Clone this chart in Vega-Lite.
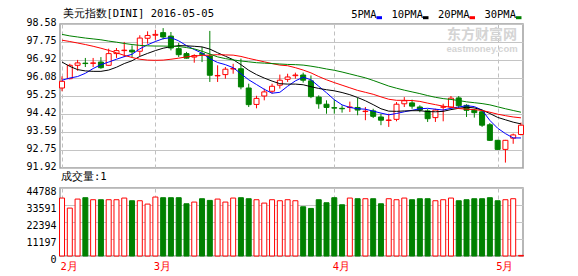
{
"$schema": "https://vega.github.io/schema/vega-lite/v6.json",
"background": "white",
"padding": {"left": 25, "top": 8, "right": 2, "bottom": 2},
"data": {"values": [
{"date":"2016-02-12","open":95.62,"high":96.16,"low":95.47,"close":95.93,"volume":38170,"5PMA":95.98,"10PMA":96.82,"20PMA":97.83,"30PMA":98.10},
{"date":"2016-02-15","open":96.05,"high":96.74,"low":96.02,"close":96.67,"volume":31550,"5PMA":96.08,"10PMA":96.62,"20PMA":97.77,"30PMA":98.03},
{"date":"2016-02-16","open":96.67,"high":96.92,"low":96.42,"close":96.78,"volume":37500,"5PMA":96.15,"10PMA":96.47,"20PMA":97.70,"30PMA":97.98},
{"date":"2016-02-17","open":96.77,"high":97.01,"low":96.59,"close":96.75,"volume":38390,"5PMA":96.30,"10PMA":96.41,"20PMA":97.63,"30PMA":97.93},
{"date":"2016-02-18","open":96.76,"high":97.01,"low":96.59,"close":96.78,"volume":37060,"5PMA":96.52,"10PMA":96.39,"20PMA":97.55,"30PMA":97.89},
{"date":"2016-02-19","open":96.82,"high":97.05,"low":96.51,"close":96.56,"volume":37060,"5PMA":96.70,"10PMA":96.39,"20PMA":97.46,"30PMA":97.85},
{"date":"2016-02-22","open":96.67,"high":97.44,"low":96.65,"close":97.21,"volume":37060,"5PMA":96.82,"10PMA":96.45,"20PMA":97.36,"30PMA":97.79},
{"date":"2016-02-23","open":97.21,"high":97.47,"low":97.01,"close":97.35,"volume":37060,"5PMA":96.95,"10PMA":96.58,"20PMA":97.25,"30PMA":97.74},
{"date":"2016-02-24","open":97.35,"high":97.75,"low":97.05,"close":97.37,"volume":38170,"5PMA":97.07,"10PMA":96.75,"20PMA":97.13,"30PMA":97.68},
{"date":"2016-02-25","open":97.37,"high":97.59,"low":97.05,"close":97.29,"volume":36400,"5PMA":97.18,"10PMA":96.88,"20PMA":97.03,"30PMA":97.63},
{"date":"2016-02-26","open":97.32,"high":98.06,"low":97.10,"close":97.93,"volume":36400,"5PMA":97.43,"10PMA":97.08,"20PMA":96.95,"30PMA":97.59},
{"date":"2016-02-29","open":97.92,"high":98.24,"low":97.67,"close":98.05,"volume":34190,"5PMA":97.62,"10PMA":97.22,"20PMA":96.91,"30PMA":97.57},
{"date":"2016-03-01","open":98.06,"high":98.31,"low":97.85,"close":98.10,"volume":38830,"5PMA":97.77,"10PMA":97.35,"20PMA":96.90,"30PMA":97.56},
{"date":"2016-03-02","open":98.18,"high":98.39,"low":97.87,"close":97.98,"volume":38390,"5PMA":97.90,"10PMA":97.46,"20PMA":96.91,"30PMA":97.56},
{"date":"2016-03-03","open":98.02,"high":98.21,"low":97.36,"close":97.47,"volume":38390,"5PMA":97.95,"10PMA":97.53,"20PMA":96.95,"30PMA":97.55},
{"date":"2016-03-04","open":97.44,"high":97.70,"low":97.05,"close":97.16,"volume":38390,"5PMA":97.80,"10PMA":97.58,"20PMA":97.00,"30PMA":97.54},
{"date":"2016-03-07","open":97.21,"high":97.29,"low":96.98,"close":97.00,"volume":34410,"5PMA":97.58,"10PMA":97.57,"20PMA":97.06,"30PMA":97.49},
{"date":"2016-03-08","open":97.05,"high":97.18,"low":96.79,"close":97.12,"volume":35520,"5PMA":97.40,"10PMA":97.55,"20PMA":97.10,"30PMA":97.43},
{"date":"2016-03-09","open":97.21,"high":97.52,"low":96.82,"close":97.18,"volume":37720,"5PMA":97.23,"10PMA":97.52,"20PMA":97.13,"30PMA":97.32},
{"date":"2016-03-10","open":97.10,"high":98.26,"low":95.90,"close":96.21,"volume":36620,"5PMA":96.98,"10PMA":97.42,"20PMA":97.14,"30PMA":97.19},
{"date":"2016-03-11","open":96.18,"high":96.67,"low":95.90,"close":96.20,"volume":37500,"5PMA":96.80,"10PMA":97.25,"20PMA":97.16,"30PMA":97.06},
{"date":"2016-03-14","open":96.24,"high":96.59,"low":96.05,"close":96.49,"volume":35520,"5PMA":96.70,"10PMA":97.09,"20PMA":97.15,"30PMA":96.98},
{"date":"2016-03-15","open":96.50,"high":96.74,"low":96.28,"close":96.52,"volume":38170,"5PMA":96.56,"10PMA":96.93,"20PMA":97.14,"30PMA":96.92},
{"date":"2016-03-16","open":96.51,"high":96.98,"low":95.56,"close":95.67,"volume":38390,"5PMA":96.28,"10PMA":96.70,"20PMA":97.08,"30PMA":96.87},
{"date":"2016-03-17","open":95.62,"high":95.82,"low":94.74,"close":94.85,"volume":37720,"5PMA":96.00,"10PMA":96.44,"20PMA":96.99,"30PMA":96.83},
{"date":"2016-03-18","open":94.86,"high":95.26,"low":94.68,"close":95.14,"volume":37060,"5PMA":95.78,"10PMA":96.24,"20PMA":96.91,"30PMA":96.79},
{"date":"2016-03-21","open":95.25,"high":95.59,"low":95.05,"close":95.44,"volume":34850,"5PMA":95.56,"10PMA":96.08,"20PMA":96.83,"30PMA":96.77},
{"date":"2016-03-22","open":95.47,"high":95.82,"low":95.36,"close":95.70,"volume":37060,"5PMA":95.38,"10PMA":95.94,"20PMA":96.75,"30PMA":96.75},
{"date":"2016-03-23","open":95.75,"high":96.24,"low":95.59,"close":95.98,"volume":36400,"5PMA":95.42,"10PMA":95.82,"20PMA":96.68,"30PMA":96.73},
{"date":"2016-03-24","open":96.02,"high":96.28,"low":95.90,"close":96.13,"volume":37060,"5PMA":95.70,"10PMA":95.80,"20PMA":96.65,"30PMA":96.71},
{"date":"2016-03-25","open":96.19,"high":96.33,"low":96.05,"close":96.22,"volume":36400,"5PMA":95.95,"10PMA":95.80,"20PMA":96.56,"30PMA":96.70},
{"date":"2016-03-28","open":96.22,"high":96.33,"low":95.87,"close":95.98,"volume":32430,"5PMA":96.12,"10PMA":95.77,"20PMA":96.45,"30PMA":96.68},
{"date":"2016-03-29","open":95.95,"high":96.20,"low":95.15,"close":95.22,"volume":31330,"5PMA":96.00,"10PMA":95.68,"20PMA":96.32,"30PMA":96.63},
{"date":"2016-03-30","open":95.20,"high":95.28,"low":94.66,"close":94.89,"volume":37060,"5PMA":95.70,"10PMA":95.60,"20PMA":96.15,"30PMA":96.57},
{"date":"2016-03-31","open":94.87,"high":95.05,"low":94.43,"close":94.72,"volume":35080,"5PMA":95.40,"10PMA":95.54,"20PMA":96.00,"30PMA":96.50},
{"date":"2016-04-01","open":94.71,"high":95.09,"low":94.43,"close":94.69,"volume":38390,"5PMA":95.08,"10PMA":95.49,"20PMA":95.87,"30PMA":96.44},
{"date":"2016-04-04","open":94.68,"high":94.82,"low":94.48,"close":94.66,"volume":33750,"5PMA":94.84,"10PMA":95.41,"20PMA":95.75,"30PMA":96.36},
{"date":"2016-04-05","open":94.72,"high":94.99,"low":94.51,"close":94.74,"volume":38170,"5PMA":94.72,"10PMA":95.31,"20PMA":95.63,"30PMA":96.27},
{"date":"2016-04-06","open":94.72,"high":95.16,"low":94.36,"close":94.60,"volume":37720,"5PMA":94.66,"10PMA":95.18,"20PMA":95.51,"30PMA":96.18},
{"date":"2016-04-07","open":94.53,"high":94.74,"low":94.13,"close":94.55,"volume":37720,"5PMA":94.64,"10PMA":95.03,"20PMA":95.42,"30PMA":96.09},
{"date":"2016-04-08","open":94.56,"high":94.66,"low":94.23,"close":94.31,"volume":37720,"5PMA":94.55,"10PMA":94.85,"20PMA":95.33,"30PMA":95.97},
{"date":"2016-04-11","open":94.28,"high":94.43,"low":93.90,"close":94.13,"volume":34410,"5PMA":94.46,"10PMA":94.66,"20PMA":95.21,"30PMA":95.84},
{"date":"2016-04-12","open":94.12,"high":94.43,"low":93.82,"close":94.14,"volume":37720,"5PMA":94.38,"10PMA":94.55,"20PMA":95.10,"30PMA":95.71},
{"date":"2016-04-13","open":94.17,"high":94.97,"low":94.08,"close":94.87,"volume":37060,"5PMA":94.44,"10PMA":94.54,"20PMA":95.05,"30PMA":95.61},
{"date":"2016-04-14","open":94.89,"high":95.20,"low":94.74,"close":95.03,"volume":38170,"5PMA":94.52,"10PMA":94.56,"20PMA":95.05,"30PMA":95.52},
{"date":"2016-04-15","open":94.93,"high":95.08,"low":94.66,"close":94.78,"volume":37060,"5PMA":94.59,"10PMA":94.57,"20PMA":95.04,"30PMA":95.44},
{"date":"2016-04-18","open":94.74,"high":94.82,"low":94.50,"close":94.60,"volume":37720,"5PMA":94.66,"10PMA":94.57,"20PMA":95.00,"30PMA":95.36},
{"date":"2016-04-19","open":94.56,"high":94.64,"low":94.05,"close":94.20,"volume":37720,"5PMA":94.68,"10PMA":94.53,"20PMA":94.92,"30PMA":95.27},
{"date":"2016-04-20","open":94.25,"high":94.66,"low":94.05,"close":94.60,"volume":36400,"5PMA":94.64,"10PMA":94.52,"20PMA":94.85,"30PMA":95.19},
{"date":"2016-04-21","open":94.73,"high":94.89,"low":94.08,"close":94.75,"volume":37060,"5PMA":94.60,"10PMA":94.54,"20PMA":94.78,"30PMA":95.13},
{"date":"2016-04-22","open":94.74,"high":95.25,"low":94.70,"close":95.15,"volume":38170,"5PMA":94.68,"10PMA":94.62,"20PMA":94.73,"30PMA":95.09},
{"date":"2016-04-25","open":95.16,"high":95.25,"low":94.70,"close":94.80,"volume":36400,"5PMA":94.74,"10PMA":94.68,"20PMA":94.67,"30PMA":95.04},
{"date":"2016-04-26","open":94.82,"high":94.87,"low":94.28,"close":94.59,"volume":37060,"5PMA":94.80,"10PMA":94.73,"20PMA":94.64,"30PMA":94.98},
{"date":"2016-04-27","open":94.59,"high":94.66,"low":94.25,"close":94.48,"volume":37720,"5PMA":94.76,"10PMA":94.70,"20PMA":94.62,"30PMA":94.94},
{"date":"2016-04-28","open":94.52,"high":94.62,"low":93.82,"close":93.90,"volume":37720,"5PMA":94.60,"10PMA":94.60,"20PMA":94.58,"30PMA":94.90},
{"date":"2016-04-29","open":93.92,"high":94.00,"low":93.17,"close":93.20,"volume":38390,"5PMA":94.12,"10PMA":94.44,"20PMA":94.50,"30PMA":94.84},
{"date":"2016-05-02","open":93.20,"high":93.22,"low":92.76,"close":92.78,"volume":36400,"5PMA":93.76,"10PMA":94.26,"20PMA":94.41,"30PMA":94.75},
{"date":"2016-05-03","open":92.78,"high":93.22,"low":92.17,"close":93.20,"volume":37060,"5PMA":93.51,"10PMA":94.15,"20PMA":94.34,"30PMA":94.66},
{"date":"2016-05-04","open":93.30,"high":93.51,"low":93.04,"close":93.45,"volume":37720,"5PMA":93.31,"10PMA":94.04,"20PMA":94.28,"30PMA":94.58},
{"date":"2016-05-05","open":93.47,"high":94.02,"low":93.43,"close":93.90,"volume":400,"5PMA":93.31,"10PMA":93.96,"20PMA":94.24,"30PMA":94.50}
]},
"config": {
  "view": {"stroke": "#a0a0a0", "strokeWidth": 1.5},
  "concat": {"spacing": -3},
  "axis": {"domain": false, "ticks": false, "tickSize": 0, "labelFont": "DejaVu Sans Mono", "labelFontSize": 10, "labelColor": "#000000", "gridColor": "#c4c4c4", "gridWidth": 1},
  "title": {"font": "DejaVu Sans Mono", "fontSize": 10.5, "fontWeight": "normal", "color": "#000000", "anchor": "start", "frame": "group"}
},
"resolve": {"scale": {"color": "independent"}, "legend": {"color": "independent"}},
"vconcat": [
{
  "width": 463,
  "height": 144,
  "title": {"text": "美元指数[DINI] 2016-05-05", "offset": -9.6, "dx": 2.5, "frame": "group", "font": "DejaVu Sans Mono", "fontSize": 10.5},
  "encoding": {
    "x": {"field": "date", "type": "ordinal", "scale": {"type": "point", "padding": 0.26},
      "axis": {"title": null, "labels": false, "ticks": false, "domain": false, "grid": true, "gridDash": [4, 3], "gridColor": "#c0c0c0",
        "gridOpacity": {"condition": {"test": "indexof(['2016-02-12','2016-03-01','2016-04-01','2016-05-02'], datum.value) >= 0", "value": 1}, "value": 0}}}
  },
  "layer": [
    {
      "data": {"values": [{}]},
      "mark": {"type": "text", "text": "东方财富网", "font": "Noto Sans CJK SC", "fontSize": 14, "fontWeight": "bold", "color": "#d4d4d4", "align": "center", "baseline": "middle"},
      "encoding": {
        "x": {"datum": "2016-04-28", "type": "ordinal"},
        "y": {"datum": 98.05, "type": "quantitative", "scale": {"domain": [91.92, 98.58], "zero": false, "nice": false},
          "axis": {"title": null, "values": [91.92, 92.75, 93.59, 94.42, 95.25, 96.08, 96.92, 97.75, 98.58], "format": ".2f", "labelOffset": -1.5, "labelPadding": 4, "grid": true}}
      }
    },
    {
      "data": {"values": [{}]},
      "mark": {"type": "text", "text": "eastmoney.com", "font": "Liberation Sans", "fontSize": 9.5, "fontWeight": "bold", "color": "#d4d4d4", "align": "center", "baseline": "middle"},
      "encoding": {
        "x": {"datum": "2016-04-28", "type": "ordinal"},
        "y": {"datum": 97.41, "type": "quantitative", "scale": {"domain": [91.92, 98.58], "zero": false, "nice": false},
          "axis": {"title": null, "values": [91.92, 92.75, 93.59, 94.42, 95.25, 96.08, 96.92, 97.75, 98.58], "format": ".2f", "labelOffset": -1.5, "labelPadding": 4, "grid": true}}
      }
    },
    {
      "mark": {"type": "rule", "strokeWidth": 1},
      "encoding": {
        "y": {"field": "low", "type": "quantitative", "scale": {"domain": [91.92, 98.58], "zero": false, "nice": false},
          "axis": {"title": null, "values": [91.92, 92.75, 93.59, 94.42, 95.25, 96.08, 96.92, 97.75, 98.58], "format": ".2f", "labelOffset": -1.5, "labelPadding": 4, "grid": true}},
        "y2": {"field": "high"},
        "stroke": {"condition": {"test": "datum.close >= datum.open", "value": "#ff0000"}, "value": "#008000"}
      }
    },
    {
      "mark": {"type": "bar", "size": 5, "strokeWidth": 1},
      "encoding": {
        "y": {"field": "open", "type": "quantitative", "scale": {"domain": [91.92, 98.58], "zero": false, "nice": false},
          "axis": {"title": null, "values": [91.92, 92.75, 93.59, 94.42, 95.25, 96.08, 96.92, 97.75, 98.58], "format": ".2f", "labelOffset": -1.5, "labelPadding": 4, "grid": true}},
        "y2": {"field": "close"},
        "fill": {"condition": {"test": "datum.close >= datum.open", "value": "#ffffff"}, "value": "#008000"},
        "stroke": {"condition": {"test": "datum.close >= datum.open", "value": "#ff0000"}, "value": "#008000"}
      }
    },
    {
      "transform": [{"fold": ["5PMA", "10PMA", "20PMA", "30PMA"], "as": ["ma", "value"]}],
      "mark": {"type": "line", "strokeWidth": 1},
      "encoding": {
        "y": {"field": "value", "type": "quantitative", "scale": {"domain": [91.92, 98.58], "zero": false, "nice": false},
          "axis": {"title": null, "values": [91.92, 92.75, 93.59, 94.42, 95.25, 96.08, 96.92, 97.75, 98.58], "format": ".2f", "labelOffset": -1.5, "labelPadding": 4, "grid": true}},
        "color": {"field": "ma", "type": "nominal",
          "scale": {"domain": ["5PMA", "10PMA", "20PMA", "30PMA"], "range": ["#0000ff", "#000000", "#ff0000", "#008000"]},
          "legend": {"orient": "none", "legendX": 314, "legendY": -14.3, "direction": "horizontal", "title": null,
            "symbolType": "M-1,1H1", "symbolSize": 30, "symbolStrokeWidth": 3,
            "labelAlign": "right", "labelOffset": -8, "labelFont": "DejaVu Sans Mono", "labelFontSize": 10.5, "labelColor": "#000000",
            "columnPadding": 2.5, "padding": 0}}
      }
    }
  ]
},
{
  "width": 463,
  "height": 68,
  "title": {"text": "成交量:1", "offset": 4, "dx": 1, "frame": "group", "font": "DejaVu Sans Mono", "fontSize": 10.5},
  "mark": {"type": "bar", "size": 5, "strokeWidth": 1},
  "encoding": {
    "x": {"field": "date", "type": "ordinal", "scale": {"type": "point", "padding": 0.26},
      "axis": {"title": null, "labelAngle": 0, "labelOverlap": false, "labelAlign": "left", "labelBaseline": "top", "labelOffset": -2, "labelPadding": 5,
        "labelColor": "#ff0000", "labelFont": "DejaVu Sans Mono", "labelFontSize": 10.5,
        "labelExpr": "datum.value == '2016-02-12' ? '2月' : datum.value == '2016-03-01' ? '3月' : datum.value == '2016-04-01' ? '4月' : datum.value == '2016-05-02' ? '5月' : ''",
        "ticks": false, "domain": false, "grid": true, "gridDash": [4, 3], "gridColor": "#c0c0c0",
        "gridOpacity": {"condition": {"test": "indexof(['2016-02-12','2016-03-01','2016-04-01','2016-05-02'], datum.value) >= 0", "value": 1}, "value": 0}}},
    "y": {"field": "volume", "type": "quantitative", "scale": {"domain": [0, 44788], "nice": false},
      "axis": {"title": null, "values": [0, 11197, 22394, 33591, 44788], "format": "d", "labelOffset": 3, "labelPadding": 4, "grid": true}},
    "fill": {"condition": {"test": "datum.close >= datum.open", "value": "#ffffff"}, "value": "#008000"},
    "stroke": {"condition": {"test": "datum.close >= datum.open", "value": "#ff0000"}, "value": "#008000"}
  }
}
]
}
